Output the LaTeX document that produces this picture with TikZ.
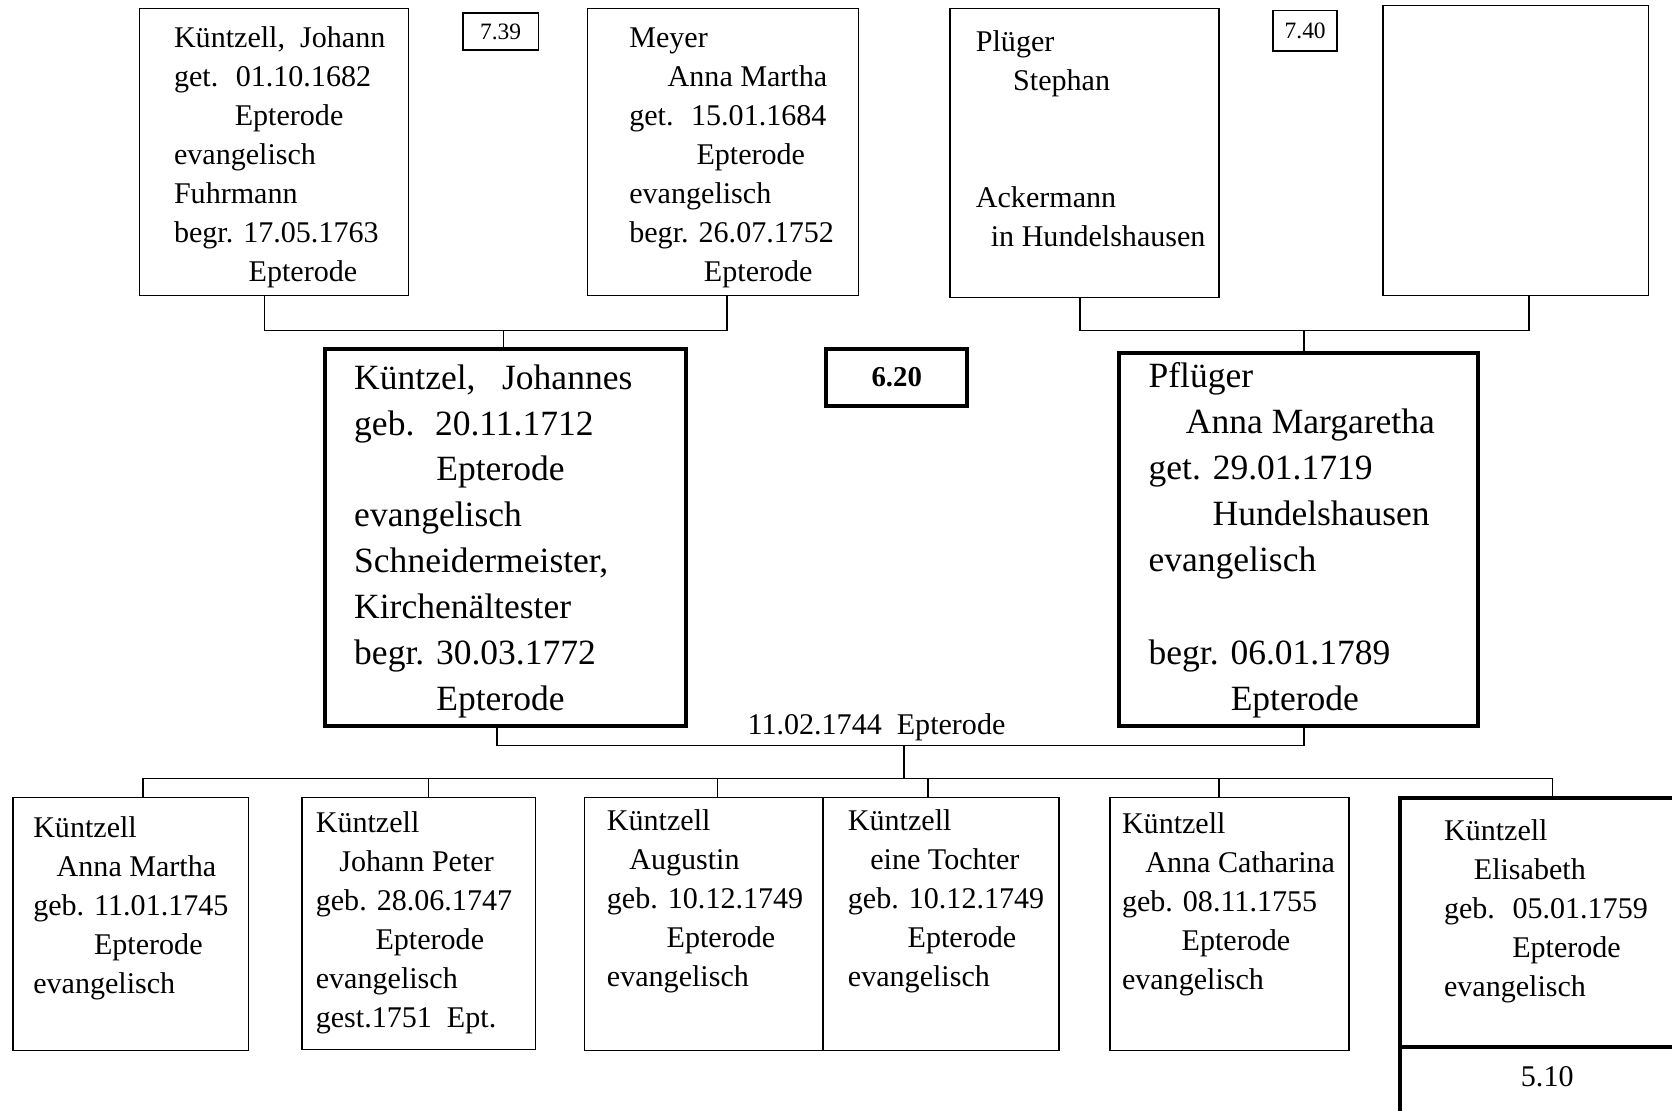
\documentclass[tikz,border=0pt]{standalone}
\usepackage{fontspec}
\setmainfont{Liberation Serif}
\begin{document}
\begin{tikzpicture}[x=1pt,y=-1pt,
  box/.style={draw,line width=1.4pt,inner sep=0pt,outer sep=0pt,anchor=north west},
  mainbox/.style={box,line width=3.6pt},
  conn/.style={line width=1.5pt},
  txt/.style={anchor=base west,inner sep=0pt,font=\fontsize{28.2}{34}\selectfont},
  bigtxt/.style={txt,font=\fontsize{33.3}{40}\selectfont},
  tag/.style={draw,line width=1.4pt,inner sep=0pt,anchor=center,font=\fontsize{22}{26}\selectfont}]
\useasboundingbox[fill=white] (0,0) rectangle (1568,1041);

% grandparents
\node[box,minimum width=252pt,minimum height=269pt] (A) at (131,8) {};
\node[box,minimum width=254pt,minimum height=269pt] (B) at (551,8) {};
\node[box,minimum width=252pt,minimum height=271pt] (C) at (891,8) {};
\node[box,minimum width=249pt,minimum height=272pt] (D) at (1297,5) {};
\node[tag,minimum width=71pt,minimum height=35pt] (t739) at (469.5,29.5) {7.39};
\node[tag,minimum width=60pt,minimum height=38pt] (t740) at (1224,29) {7.40};

\foreach \n/\dx/\w in {1/0/{Küntzell,~ Johann},2/0/{get.~ 01.10.1682},3/57/{Epterode},
  4/0/{evangelisch},5/0/{Fuhrmann},6/0/{begr. 17.05.1763},7/70/{Epterode}}
  \node[txt] (A-\n) at ({163+\dx},{45+(\n-1)*36.5}) {\w};
\foreach \n/\dx/\w in {1/0/{Meyer},2/36/{Anna Martha},3/0/{get.~ 15.01.1684},4/63/{Epterode},
  5/0/{evangelisch},6/0/{begr. 26.07.1752},7/70/{Epterode}}
  \node[txt] (B-\n) at ({590+\dx},{45+(\n-1)*36.5}) {\w};
\foreach \n/\dx/\w in {1/0/{Plüger},2/35/{Stephan},5/0/{Ackermann},6/14/{in Hundelshausen}}
  \node[txt] (C-\n) at ({915+\dx},{48.5+(\n-1)*36.5}) {\w};

% parents
\node[mainbox,minimum width=338pt,minimum height=354pt] (E) at (305,327) {};
\node[mainbox,minimum width=337pt,minimum height=350pt] (F) at (1049,331) {};
\node[tag,line width=3.6pt,minimum width=132pt,minimum height=54pt,
  font=\fontsize{27}{32}\selectfont\bfseries] (t620) at (841,354) {6.20};

\foreach \n/\dx/\w in {1/0/{Küntzel,~~ Johannes},2/0/{geb.~ 20.11.1712},3/77/{Epterode},
  4/0/{evangelisch},5/0/{Schneidermeister,},6/0/{Kirchenältester},7/0/{begr. 30.03.1772},8/77/{Epterode}}
  \node[bigtxt] (E-\n) at ({332+\dx},{365+(\n-1)*43}) {\w};
\foreach \n/\dx/\w in {1/0/{Pflüger},2/35/{Anna Margaretha},3/0/{get. 29.01.1719},4/60/{Hundelshausen},
  5/0/{evangelisch},7/0/{begr. 06.01.1789},8/77/{Epterode}}
  \node[bigtxt] (F-\n) at ({1077+\dx},{363+(\n-1)*43.3}) {\w};

\node[txt,anchor=base] (wed) at (822,689) {11.02.1744~ Epterode};

% children
\node[box,minimum width=221pt,minimum height=237pt] (K1) at (12,748) {};
\node[box,minimum width=219pt,minimum height=236pt] (K2) at (283,748) {};
\node[box,minimum width=224pt,minimum height=237pt] (K3) at (548,748) {};
\node[box,minimum width=221pt,minimum height=237pt] (K4) at (772,748) {};
\node[box,minimum width=224pt,minimum height=237pt] (K5) at (1041,748) {};
\node[mainbox,minimum width=280pt,minimum height=234pt] (K6) at (1313,748) {};
\node[mainbox,minimum width=280pt,minimum height=90pt] (K6ref) at (1313,982) {};
\node[txt,anchor=base] (K6num) at (1451,1019) {5.10};

\foreach \n/\dx/\w in {1/0/{Küntzell},2/22/{Anna Martha},3/0/{geb. 11.01.1745},4/57/{Epterode},5/0/{evangelisch}}
  \node[txt] (K1-\n) at ({31+\dx},{785+(\n-1)*36.7}) {\w};
\foreach \n/\dx/\w in {1/0/{Küntzell},2/22/{Johann Peter},3/0/{geb. 28.06.1747},4/56/{Epterode},
  5/0/{evangelisch},6/0/{gest.1751~ Ept.}}
  \node[txt] (K2-\n) at ({296+\dx},{781+(\n-1)*36.6}) {\w};
\foreach \n/\dx/\w in {1/0/{Küntzell},2/21/{Augustin},3/0/{geb. 10.12.1749},4/56/{Epterode},5/0/{evangelisch}}
  \node[txt] (K3-\n) at ({569+\dx},{779+(\n-1)*36.6}) {\w};
\foreach \n/\dx/\w in {1/0/{Küntzell},2/21/{eine Tochter},3/0/{geb. 10.12.1749},4/56/{Epterode},5/0/{evangelisch}}
  \node[txt] (K4-\n) at ({795+\dx},{779+(\n-1)*36.6}) {\w};
\foreach \n/\dx/\w in {1/0/{Küntzell},2/22/{Anna Catharina},3/0/{geb. 08.11.1755},4/56/{Epterode},5/0/{evangelisch}}
  \node[txt] (K5-\n) at ({1052+\dx},{782+(\n-1)*36.6}) {\w};
\foreach \n/\dx/\w in {1/0/{Küntzell},2/28/{Elisabeth},3/0/{geb.~ 05.01.1759},4/64/{Epterode},5/0/{evangelisch}}
  \node[txt] (K6-\n) at ({1354+\dx},{788+(\n-1)*36.6}) {\w};

% connectors
\coordinate (jAB) at (472,310);
\coordinate (jCD) at (1223,310);
\coordinate (jEF) at (848,699);
\coordinate (jK) at (848,730);
\draw[conn] ([xshift=117pt]A.south west) |- (jAB) -| ([xshift=131pt]B.south west);
\draw[conn] (jAB) -- (jAB |- E.north);
\draw[conn] ([xshift=122pt]C.south west) |- (jCD) -| ([xshift=137pt]D.south west);
\draw[conn] (jCD) -- (jCD |- F.north);
\draw[conn] ([xshift=161pt]E.south west) |- (jEF) -| ([xshift=174pt]F.south west);
\draw[conn] (jEF) -- (jK);
\foreach \k/\x in {K1/134,K2/402,K3/673,K4/870,K5/1143,K6/1456}
  \coordinate (d\k) at (\x,730);
\draw[conn] (dK1) -- (dK6);
\foreach \k in {K1,K2,K3,K4,K5,K6}
  \draw[conn] (d\k) -- (d\k |- \k.north);
\end{tikzpicture}
\end{document}
